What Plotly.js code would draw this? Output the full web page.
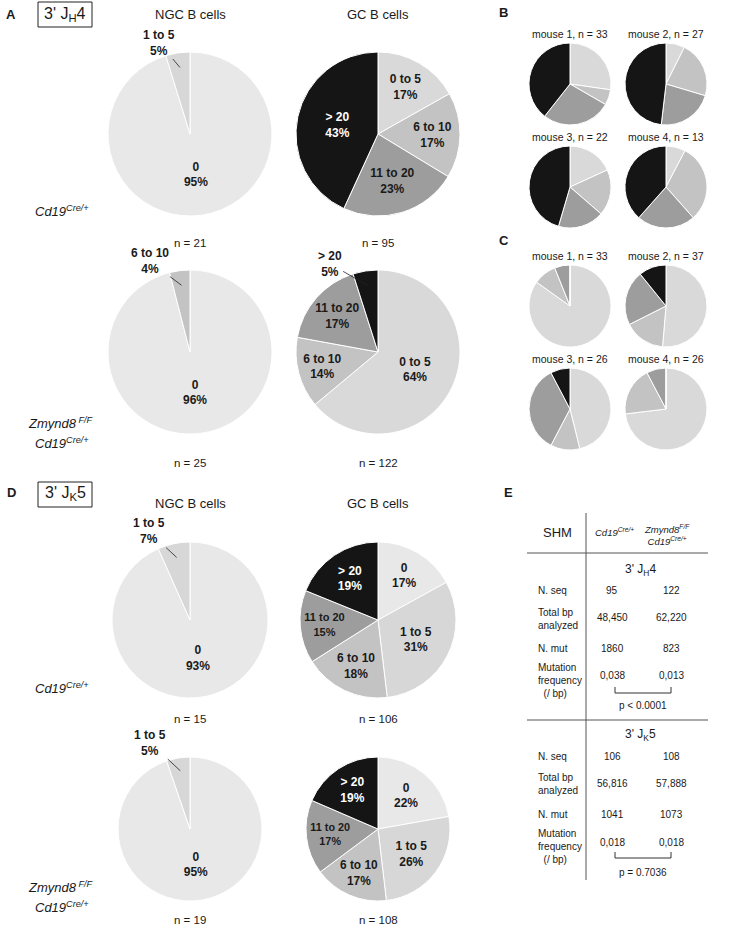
<!DOCTYPE html>
<html><head><meta charset="utf-8">
<script src="https://cdn.plot.ly/plotly-3.0.1.min.js"></script>
<style>body{margin:0;background:#fff}</style>
</head><body><div id="chart" style="width:756px;height:941px"></div>
<script>
// ---------------- DATA ----------------
// Panel A: 3' JH4
const jh4NgcCd19Labels = ['0', '1 to 5'];
const jh4NgcCd19Values = [20, 1];
const jh4NgcCd19Pct = ['95%', '5%'];
const jh4NgcZmLabels = ['0', '6 to 10'];
const jh4NgcZmValues = [24, 1];
const jh4NgcZmPct = ['96%', '4%'];
const jh4GcLabels = ['0 to 5', '6 to 10', '11 to 20', '> 20'];
const jh4GcCd19Values = [16, 16, 22, 41];
const jh4GcCd19Pct = ['17%', '17%', '23%', '43%'];
const jh4GcZmValues = [78, 17, 21, 6];
const jh4GcZmPct = ['64%', '14%', '17%', '5%'];
// Panel D: 3' JK5
const jk5NgcLabels = ['0', '1 to 5'];
const jk5NgcCd19Values = [14, 1];
const jk5NgcCd19Pct = ['93%', '7%'];
const jk5NgcZmValues = [18, 1];
const jk5NgcZmPct = ['95%', '5%'];
const jk5GcLabels = ['0', '1 to 5', '6 to 10', '11 to 20', '> 20'];
const jk5GcCd19Values = [18, 33, 19, 16, 20];
const jk5GcCd19Pct = ['17%', '31%', '18%', '15%', '19%'];
const jk5GcZmValues = [24, 28, 18, 18, 20];
const jk5GcZmPct = ['22%', '26%', '17%', '17%', '19%'];
// Panels B and C: per mouse (GC B cells, JH4)
const mouseNames = ['mouse 1', 'mouse 2', 'mouse 3', 'mouse 4'];
const mouseLabels = ['0 to 5', '6 to 10', '11 to 20', '> 20'];
const mouseBValues = [[9, 2, 9, 13], [2, 6, 6, 13], [4, 4, 4, 10], [1, 4, 3, 5]];
const mouseCValues = [[28, 3, 2, 0], [19, 6, 8, 4], [12, 3, 9, 2], [19, 5, 2, 0]];
// Panel E: table
const tableRowLabels = ['N. seq', 'Total bp<br>analyzed', 'N. mut', 'Mutation<br>frequency<br>&nbsp;&nbsp;(/ bp)'];
const jh4Cd19Table = ['95', '48,450', '1860', '0,038'];
const jh4ZmTable = ['122', '62,220', '823', '0,013'];
const jk5Cd19Table = ['106', '56,816', '1041', '0,018'];
const jk5ZmTable = ['108', '57,888', '1073', '0,018'];
const pValues = ['p < 0.0001', 'p = 0.7036'];
const blockTitles = ["3' J<sub>H</sub>4", "3' J<sub>K</sub>5"];

// ---------------- LAYOUT HELPERS ----------------
const W = 756, H = 941;
const FONT = 'Liberation Sans, Arial, Helvetica, sans-serif';
const TXT = '#1a1a1a';
const colorMap = {'0': '#e8e8e8', '0 to 5': '#d9d9d9', '1 to 5': '#d7d7d7', '6 to 10': '#c3c3c3', '11 to 20': '#9d9d9d', '> 20': '#151515'};
const PX = x => x / W, PY = y => 1 - y / H;
const sum = a => a.reduce((s, v) => s + v, 0);
function dom(cx, cy, r) { return {x: [PX(cx - r), PX(cx + r)], y: [PY(cy + r), PY(cy - r)]}; }

const traces = [];
const annotations = [];
const shapes = [];
function ann(x, y, text, o) {
  o = o || {};
  annotations.push(Object.assign({x: PX(x), y: PY(y), xref: 'paper', yref: 'paper', text: text, showarrow: false,
    xanchor: 'center', yanchor: 'middle', font: {family: FONT, size: o.size || 12, color: o.color || TXT}}, o.extra || {}));
}
function bigPie(labels, values, pct, cx, cy, r, hidden, nY) {
  traces.push({type: 'pie', labels: labels, values: values, text: pct, sort: false, direction: 'clockwise', rotation: 0,
    domain: dom(cx, cy, r),
    marker: {colors: labels.map(l => colorMap[l]), line: {color: '#ffffff', width: 1}},
    texttemplate: '<b>%{label}<br>%{text}</b>',
    textposition: labels.map((l, i) => hidden.includes(i) ? 'none' : 'inside'),
    insidetextorientation: 'horizontal',
    textfont: {family: FONT, size: 12, color: labels.map(l => l === '> 20' ? '#ffffff' : TXT)},
    hoverinfo: 'skip', showlegend: false});
  ann(cx, nY, 'n = ' + sum(values), {size: 11.5});
}
function leader(labels, values, pct, idx, cx, cy, r, ax, ay) {
  const tot = sum(values);
  let cum = 0; for (let i = 0; i < idx; i++) cum += values[i];
  const th = 2 * Math.PI * (cum + values[idx] / 2) / tot;
  const tx = cx + 0.82 * r * Math.sin(th), ty = cy - 0.82 * r * Math.cos(th);
  annotations.push({x: PX(tx), y: PY(ty), xref: 'paper', yref: 'paper', axref: 'pixel', ayref: 'pixel',
    text: '<b>' + labels[idx] + '<br>' + pct[idx] + '</b>', showarrow: true, arrowhead: 0, arrowwidth: 0.8,
    arrowcolor: '#222', ax: ax, ay: ay, standoff: 0, font: {family: FONT, size: 12, color: TXT}});
}
function smallPie(values, cx, cy, r, title) {
  traces.push({type: 'pie', labels: mouseLabels, values: values, sort: false, direction: 'clockwise', rotation: 0,
    domain: dom(cx, cy, r), marker: {colors: mouseLabels.map(l => colorMap[l]), line: {color: '#ffffff', width: 1}},
    textinfo: 'none', hoverinfo: 'skip', showlegend: false});
  ann(cx, cy - r - 9, title, {size: 10.5});
}

// ---------------- PANEL A ----------------
const R = 82;
ann(11, 14, '<b>A</b>', {size: 13});
shapes.push({type: 'rect', xref: 'paper', yref: 'paper', x0: PX(38), x1: PX(92), y0: PY(27), y1: PY(2), line: {color: '#222', width: 1}});
ann(65, 15, blockTitles[0], {size: 16});
ann(190, 14, 'NGC B cells', {size: 13});
ann(378, 14, 'GC B cells', {size: 13});
bigPie(jh4NgcCd19Labels, jh4NgcCd19Values, jh4NgcCd19Pct, 190, 134, R, [1], 243);
leader(jh4NgcCd19Labels, jh4NgcCd19Values, jh4NgcCd19Pct, 1, 190, 134, R, -21, -25);
bigPie(jh4GcLabels, jh4GcCd19Values, jh4GcCd19Pct, 378, 134, R, [], 243);
bigPie(jh4NgcZmLabels, jh4NgcZmValues, jh4NgcZmPct, 190, 352, R, [1], 463);
leader(jh4NgcZmLabels, jh4NgcZmValues, jh4NgcZmPct, 1, 190, 352, R, -32, -24);
bigPie(jh4GcLabels, jh4GcZmValues, jh4GcZmPct, 378, 352, R, [3], 463);
leader(jh4GcLabels, jh4GcZmValues, jh4GcZmPct, 3, 378, 352, R, -38, -22);
ann(62, 211, '<i>Cd19<sup>Cre/+</sup></i>', {size: 13});
ann(60, 423, '<i>Zmynd8<sup> F/F</sup></i>', {size: 13});
ann(62, 443, '<i>Cd19<sup>Cre/+</sup></i>', {size: 13});

// ---------------- PANEL D ----------------
ann(11, 492, '<b>D</b>', {size: 13});
shapes.push({type: 'rect', xref: 'paper', yref: 'paper', x0: PX(38), x1: PX(92), y0: PY(507), y1: PY(482), line: {color: '#222', width: 1}});
ann(65, 494, blockTitles[1], {size: 16});
ann(190, 503, 'NGC B cells', {size: 13});
ann(378, 503, 'GC B cells', {size: 13});
bigPie(jk5NgcLabels, jk5NgcCd19Values, jk5NgcCd19Pct, 190, 620, 78, [1], 719);
leader(jk5NgcLabels, jk5NgcCd19Values, jk5NgcCd19Pct, 1, 190, 620, 78, -28, -26);
bigPie(jk5GcLabels, jk5GcCd19Values, jk5GcCd19Pct, 378, 620, 78, [], 719);
bigPie(jk5NgcLabels, jk5NgcZmValues, jk5NgcZmPct, 190, 829, 72, [1], 920);
leader(jk5NgcLabels, jk5NgcZmValues, jk5NgcZmPct, 1, 190, 829, 72, -30, -28);
bigPie(jk5GcLabels, jk5GcZmValues, jk5GcZmPct, 378, 829, 72, [], 920);
ann(62, 688, '<i>Cd19<sup>Cre/+</sup></i>', {size: 13});
ann(60, 887, '<i>Zmynd8<sup> F/F</sup></i>', {size: 13});
ann(62, 907, '<i>Cd19<sup>Cre/+</sup></i>', {size: 13});

// ---------------- PANELS B, C ----------------
ann(503, 13, '<b>B</b>', {size: 13});
ann(504, 240, '<b>C</b>', {size: 13});
const rs = 41;
const mx = [570, 666];
const myB = [84, 187], myC = [306, 409];
mouseNames.forEach((m, i) => {
  const cx = mx[i % 2];
  smallPie(mouseBValues[i], cx, myB[Math.floor(i / 2)], rs, m + ', n = ' + sum(mouseBValues[i]));
  smallPie(mouseCValues[i], cx, myC[Math.floor(i / 2)], rs, m + ', n = ' + sum(mouseCValues[i]));
});

// ---------------- PANEL E ----------------
ann(508, 492, '<b>E</b>', {size: 13});
const line = (x0, y0, x1, y1) => shapes.push({type: 'line', xref: 'paper', yref: 'paper', x0: PX(x0), y0: PY(y0), x1: PX(x1), y1: PY(y1), line: {color: '#555', width: 1}});
line(586, 513, 586, 880);
line(527, 553, 708, 553);
line(527, 720, 708, 720);
ann(557, 532, 'SHM', {size: 13});
ann(614, 532, '<i>Cd19<sup>Cre/+</sup></i>', {size: 9.5});
ann(667, 535, '<i>Zmynd8<sup>F/F</sup></i><br><i>Cd19<sup>Cre/+</sup></i>', {size: 9.5, extra: {align: 'center'}});
const colX = [612, 671];
const blocks = [
  {top: 570, rowsY: [590, 619, 648, 680], valY: [590, 617, 648, 675], a: jh4Cd19Table, b: jh4ZmTable, br: 687, p: 705},
  {top: 735, rowsY: [756, 784, 814, 846], valY: [756, 783, 814, 842], a: jk5Cd19Table, b: jk5ZmTable, br: 852, p: 872}
];
blocks.forEach((bk, k) => {
  ann(640, bk.top, blockTitles[k], {size: 12});
  tableRowLabels.forEach((lab, i) => {
    ann(536, bk.rowsY[i], lab, {size: 10, extra: {xanchor: 'left', align: 'left'}});
    ann(colX[0], bk.valY[i], bk.a[i], {size: 10});
    ann(colX[1], bk.valY[i], bk.b[i], {size: 10});
  });
  shapes.push({type: 'path', xref: 'paper', yref: 'paper',
    path: `M ${PX(615)} ${PY(bk.br)} L ${PX(615)} ${PY(bk.br + 6)} L ${PX(671)} ${PY(bk.br + 6)} L ${PX(671)} ${PY(bk.br)}`,
    line: {color: '#333', width: 1}});
  ann(643, bk.p, pValues[k], {size: 10});
});

const layout = {width: W, height: H, margin: {l: 0, r: 0, t: 0, b: 0}, paper_bgcolor: '#ffffff', plot_bgcolor: '#ffffff',
  showlegend: false, annotations: annotations, shapes: shapes, font: {family: FONT, color: TXT}};
Plotly.newPlot('chart', traces, layout, {staticPlot: true, displayModeBar: false});
</script></body></html>
